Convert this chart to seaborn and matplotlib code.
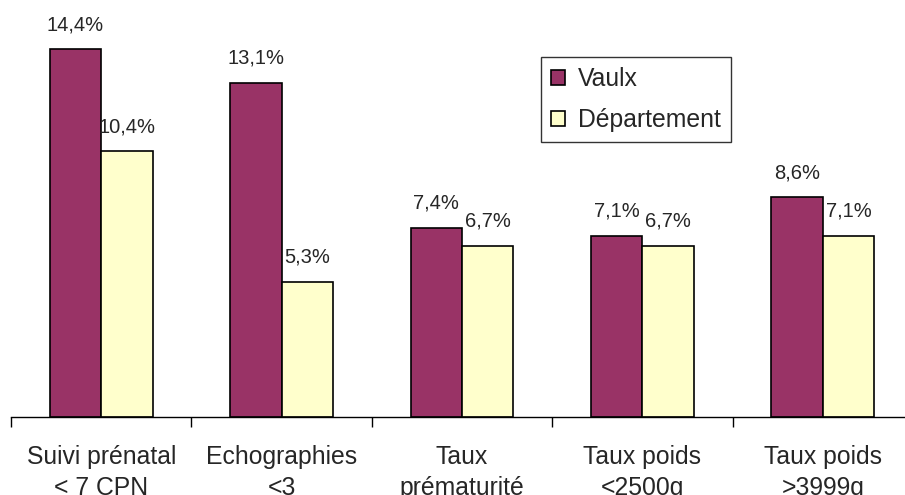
import numpy as np
import pandas as pd
import matplotlib
matplotlib.use("Agg")
import matplotlib.pyplot as plt
import seaborn as sns

categories = ["Suivi prénatal\n< 7 CPN", "Echographies\n<3", "Taux\nprématurité",
              "Taux poids\n<2500g", "Taux poids\n>3999g"]
series = ["Vaulx", "Département"]
vaulx = [14.4, 13.1, 7.4, 7.1, 8.6]
departement = [10.4, 5.3, 6.7, 6.7, 7.1]
colors = ["#993366", "#FFFFCC"]

df = pd.DataFrame({
    "categorie": categories * 2,
    "serie": [series[0]] * len(vaulx) + [series[1]] * len(departement),
    "valeur": vaulx + departement,
})

sns.set_style("white")
plt.rcParams["font.family"] = ["Liberation Sans", "DejaVu Sans"]

fig = plt.figure(figsize=(9.05, 4.95), dpi=100)
ax = fig.add_axes([11 / 905, 78 / 495, 902 / 905, 417 / 495])

sns.barplot(data=df, x="categorie", y="valeur", hue="serie", palette=colors,
            saturation=1, width=0.57, gap=0, edgecolor="black", linewidth=1.2,
            errorbar=None, ax=ax)

fmt = lambda v: f"{v:.1f}".replace(".", ",") + "%"
for cont in ax.containers:
    ax.bar_label(cont, fmt=fmt, padding=11, fontsize=14.5)

ax.set_xlim(-0.5, len(categories) - 0.5)
ax.set_ylim(0, 417 / 25.53)
ax.set_xlabel("")
ax.set_ylabel("")
ax.set_yticks([])

# ticks between groups, labels centred under each group
ax.set_xticks(np.arange(-0.5, len(categories), 1))
ax.set_xticklabels([""] * (len(categories) + 1))
ax.set_xticks(np.arange(len(categories)), minor=True)
ax.set_xticklabels(categories, minor=True, fontsize=17.8, linespacing=1.4)
ax.tick_params(axis="x", which="major", bottom=True, length=7, width=1,
               direction="out", color="black")
ax.tick_params(axis="x", which="minor", bottom=True, length=0, pad=20)

for s in ["left", "top", "right"]:
    ax.spines[s].set_visible(False)
ax.spines["bottom"].set_color("black")
ax.spines["bottom"].set_linewidth(1)

leg = ax.legend(loc="upper left", bbox_to_anchor=(0.5876, 0.863), borderaxespad=0,
                fontsize=17.8, frameon=True, fancybox=False, edgecolor="black",
                handlelength=0.55, handleheight=0.55, handletextpad=0.55,
                labelspacing=0.7, borderpad=0.4, title=None)
leg.get_frame().set_linewidth(1)

fig.savefig("out.png", dpi=100)
